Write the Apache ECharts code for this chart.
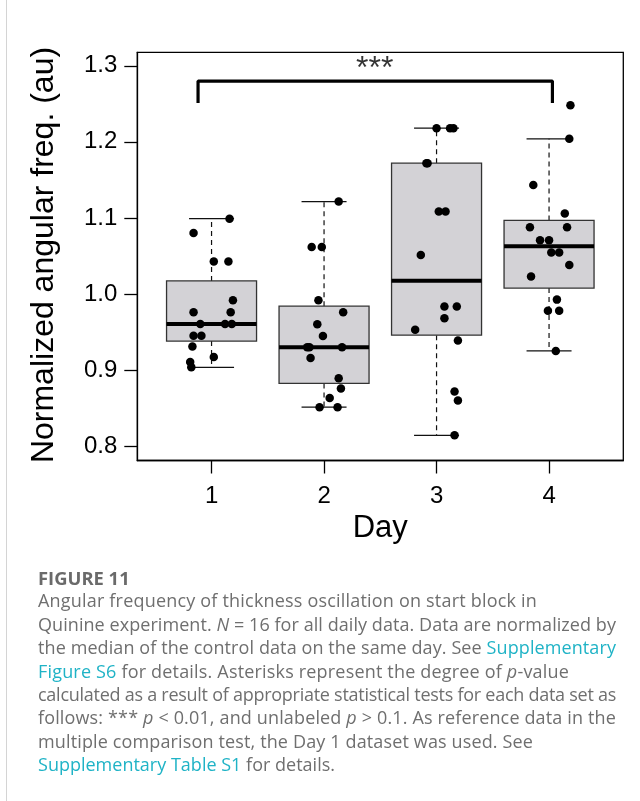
<!DOCTYPE html>
<html>
<head>
<meta charset="utf-8">
<script src="https://cdn.jsdelivr.net/npm/echarts@6/dist/echarts.min.js"></script>
<style>
  html, body { margin: 0; padding: 0; background: #fff; }
  #wrap { position: relative; width: 640px; height: 801px; overflow: hidden; }
  #chart { position: absolute; left: 0; top: 0; width: 640px; height: 801px; }
  #rule { position: absolute; left: 6px; top: 0; width: 1px; height: 801px; background: #d4d4d4; }
  #caption {
    position: absolute; left: 38px; top: 566px; width: 600px;
    font-family: "Open Sans", "Noto Sans", sans-serif; color: #6f6f6f;
    font-size: 18px; line-height: 23.4px; white-space: nowrap;
  }
  #caption div { display: block; }
  #caption span.ln { display: inline-block; }
  #caption .head { font-weight: 700; font-size: 18.4px; color: #6a6a6a; }
  #caption a { color: #1fb3c6; text-decoration: none; }
</style>
</head>
<body>
<div id="wrap">
  <div id="chart"></div>
  <div id="rule"></div>
  <div id="caption">
    <div class="head">FIGURE 11</div>
    <div><span class="ln" data-w="499">Angular frequency of thickness oscillation on start block in</span></div>
    <div><span class="ln" data-w="578">Quinine experiment. <i>N</i> = 16 for all daily data. Data are normalized by</span></div>
    <div><span class="ln" data-w="578">the median of the control data on the same day. See <a>Supplementary</a></span></div>
    <div><span class="ln" data-w="531"><a>Figure S6</a> for details. Asterisks represent the degree of <i>p</i>-value</span></div>
    <div><span class="ln" data-w="578">calculated as a result of appropriate statistical tests for each data set as</span></div>
    <div><span class="ln" data-w="578">follows: *** <i>p</i> &lt; 0.01, and unlabeled <i>p</i> &gt; 0.1. As reference data in the</span></div>
    <div><span class="ln" data-w="495">multiple comparison test, the Day 1 dataset was used. See</span></div>
    <div><span class="ln" data-w="297"><a>Supplementary Table S1</a> for details.</span></div>
  </div>
</div>
<script>
// Days on the x axis and their tick labels
const days = [1, 2, 3, 4];
const dayLabels = ['1', '2', '3', '4'];
const yTicks = [0.8, 0.9, 1.0, 1.1, 1.2, 1.3];

// Normalized angular frequency, N = 16 per day
const day1Values = [1.099, 1.080, 1.0425, 1.0425, 0.9917, 0.976, 0.976, 0.9605, 0.9605, 0.9605, 0.945, 0.945, 0.931, 0.917, 0.9105, 0.9035];
const day2Values = [1.1215, 1.0618, 1.0618, 0.9917, 0.976, 0.960, 0.9447, 0.930, 0.930, 0.930, 0.9158, 0.889, 0.8755, 0.863, 0.851, 0.851];
const day3Values = [1.218, 1.218, 1.218, 1.172, 1.172, 1.1083, 1.1083, 1.0513, 0.9833, 0.9833, 0.968, 0.953, 0.9386, 0.8715, 0.8597, 0.814];
const day4Values = [1.248, 1.204, 1.1434, 1.1057, 1.0877, 1.0877, 1.0707, 1.0707, 1.0544, 1.0544, 1.038, 1.0228, 0.9925, 0.978, 0.978, 0.925];

// Jittered horizontal placement of each point (in day units)
const day1Jitter = [1.16, 0.84, 1.02, 1.15, 1.19, 0.84, 1.17, 0.90, 1.12, 1.18, 0.84, 0.91, 0.83, 1.02, 0.81, 0.82];
const day2Jitter = [2.13, 1.89, 1.98, 1.95, 2.17, 1.94, 1.99, 1.85, 1.87, 2.16, 1.88, 2.13, 2.15, 2.05, 1.96, 2.12];
const day3Jitter = [3.00, 3.12, 3.15, 2.91, 2.92, 3.02, 3.08, 2.86, 3.07, 3.18, 3.07, 2.81, 3.19, 3.16, 3.19, 3.16];
const day4Jitter = [4.19, 4.18, 3.86, 4.14, 3.83, 4.16, 3.92, 4.00, 4.02, 4.09, 4.18, 3.84, 4.07, 3.99, 4.09, 4.06];

// Significance bracket between Day 1 and Day 4
const bracketFrom = 1;
const bracketTo = 4;
const bracketLabel = '***';

const allValues = [day1Values, day2Values, day3Values, day4Values];
const allJitter = [day1Jitter, day2Jitter, day3Jitter, day4Jitter];

// Stretch each caption line to its set width via letter spacing
document.querySelectorAll('#caption span.ln').forEach(el => {
  const target = parseFloat(el.dataset.w);
  const natural = el.getBoundingClientRect().width;
  const chars = el.textContent.length;
  el.style.letterSpacing = ((target - natural) / chars).toFixed(3) + 'px';
});

// Tukey five-number summary with 1.5 IQR whiskers
function boxStats(values) {
  const x = values.slice().sort((a, b) => a - b);
  const n = x.length;
  const n4 = Math.floor((n + 3) / 2) / 2;
  const d = [1, n4, (n + 1) / 2, n + 1 - n4, n];
  const f = d.map(v => 0.5 * (x[Math.floor(v) - 1] + x[Math.ceil(v) - 1]));
  const iqr = f[3] - f[1];
  const lo = Math.min(...x.filter(v => v >= f[1] - 1.5 * iqr));
  const hi = Math.max(...x.filter(v => v <= f[3] + 1.5 * iqr));
  return [lo, f[1], f[2], f[3], hi];
}

const boxData = days.map((d, i) => [d].concat(boxStats(allValues[i])));
const pointData = [];
allValues.forEach((vals, i) => vals.forEach((v, j) => pointData.push([allJitter[i][j], v])));

const FONT = '"Liberation Sans", Arial, Helvetica, sans-serif';
const halfBox = 0.4, halfCap = 0.2;

function renderBox(params, api) {
  const x = api.value(0);
  const lo = api.value(1), q1 = api.value(2), med = api.value(3), q3 = api.value(4), hi = api.value(5);
  const pL = api.coord([x - halfBox, q3]);
  const pR = api.coord([x + halfBox, q1]);
  const c = (xx, yy) => api.coord([xx, yy]);
  const wStyle = { stroke: '#111', lineWidth: 1.2, lineDash: [5, 4] };
  const capStyle = { stroke: '#111', lineWidth: 1.2 };
  return {
    type: 'group',
    children: [
      { type: 'line', shape: { x1: c(x, q3)[0], y1: c(x, q3)[1], x2: c(x, hi)[0], y2: c(x, hi)[1] }, style: wStyle },
      { type: 'line', shape: { x1: c(x, q1)[0], y1: c(x, q1)[1], x2: c(x, lo)[0], y2: c(x, lo)[1] }, style: wStyle },
      { type: 'line', shape: { x1: c(x - halfCap, hi)[0], y1: c(x, hi)[1], x2: c(x + halfCap, hi)[0], y2: c(x, hi)[1] }, style: capStyle },
      { type: 'line', shape: { x1: c(x - halfCap, lo)[0], y1: c(x, lo)[1], x2: c(x + halfCap, lo)[0], y2: c(x, lo)[1] }, style: capStyle },
      { type: 'rect', shape: { x: pL[0], y: pL[1], width: pR[0] - pL[0], height: pR[1] - pL[1] },
        style: { fill: '#d3d2d6', stroke: '#333', lineWidth: 1.3 } },
      { type: 'line', shape: { x1: pL[0], y1: c(x, med)[1], x2: pR[0], y2: c(x, med)[1] },
        style: { stroke: '#000', lineWidth: 4 } }
    ]
  };
}

const chart = echarts.init(document.getElementById('chart'), null, { renderer: 'canvas' });
chart.setOption({
  animation: false,
  backgroundColor: 'transparent',
  grid: { left: 137.3, top: 52.3, right: 16.7, bottom: 340.5, show: true, borderColor: '#000', borderWidth: 1.3, backgroundColor: 'transparent' },
  xAxis: {
    type: 'value', min: 0.34, max: 4.66,
    splitLine: { show: false },
    axisLine: { show: true, onZero: false, lineStyle: { color: '#000', width: 1.3 } },
    axisTick: { show: true, inside: false, length: 13, customValues: days, lineStyle: { color: '#000', width: 1.3 } },
    axisLabel: { customValues: days, margin: 24, color: '#000', fontSize: 24, fontFamily: FONT,
      formatter: v => dayLabels[days.indexOf(Math.round(v))] },
    name: 'Day', nameLocation: 'middle', nameGap: 52,
    nameTextStyle: { color: '#000', fontSize: 31, fontFamily: FONT }
  },
  yAxis: {
    type: 'value', min: 0.7809, max: 1.3178,
    splitLine: { show: false },
    axisLine: { show: true, onZero: false, lineStyle: { color: '#000', width: 1.3 } },
    axisTick: { show: true, inside: false, length: 13, customValues: yTicks, lineStyle: { color: '#000', width: 1.3 } },
    axisLabel: { customValues: yTicks, margin: 20, color: '#000', fontSize: 24, fontFamily: FONT,
      formatter: v => v.toFixed(1) }
  },
  graphic: [
    { type: 'text', x: 44, y: 255, rotation: Math.PI / 2,
      style: { text: 'Normalized angular freq. (au)', fill: '#000', font: '32px ' + FONT, textAlign: 'center', textVerticalAlign: 'middle' } }
  ],
  series: [
    {
      type: 'custom', renderItem: renderBox, data: boxData,
      encode: { x: 0, y: [1, 2, 3, 4, 5] }, z: 2
    },
    {
      type: 'scatter', data: pointData, symbol: 'circle', symbolSize: 8.5,
      itemStyle: { color: '#000', opacity: 1 }, z: 3
    },
    {
      type: 'line', z: 4, symbol: 'none',
      data: [[bracketFrom - 0.12, 1.251], [bracketFrom - 0.12, 1.28], [bracketTo + 0.03, 1.28], [bracketTo + 0.03, 1.251]],
      lineStyle: { color: '#000', width: 3.2 }
    },
    {
      type: 'scatter', z: 4, symbolSize: 0, silent: true,
      data: [[(bracketFrom + bracketTo) / 2 - 0.05, 1.295]],
      label: { show: true, position: 'inside', formatter: bracketLabel, color: '#000', fontSize: 32, fontFamily: FONT }
    }
  ]
});
</script>
</body>
</html>
